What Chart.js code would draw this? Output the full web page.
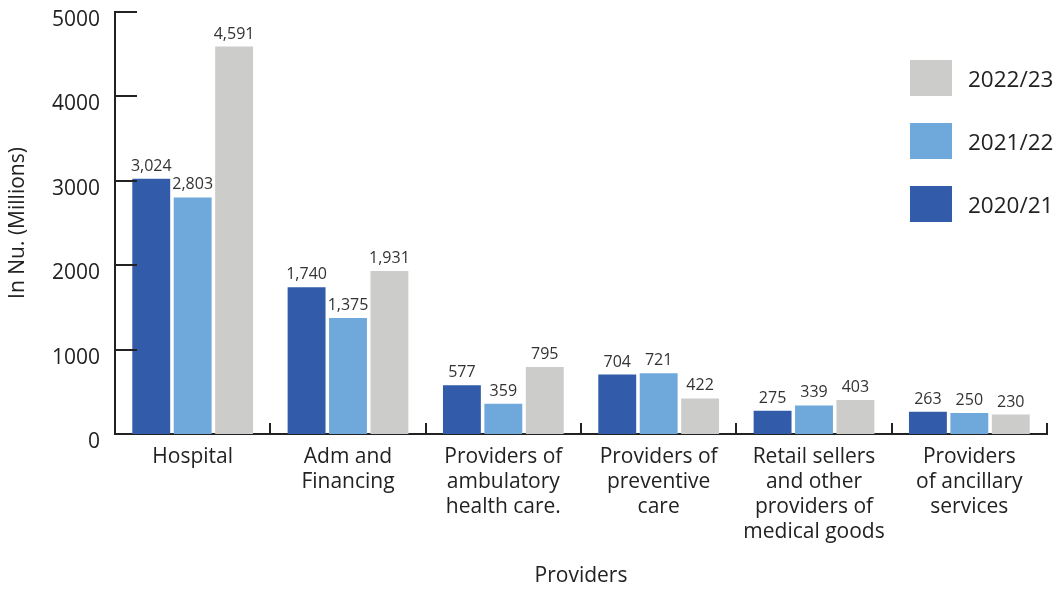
<!DOCTYPE html>
<html>
<head>
<meta charset="utf-8">
<script src="https://cdn.jsdelivr.net/npm/chart.js@4.4.1/dist/chart.umd.min.js"></script>
<style>
  html, body { margin: 0; padding: 0; background: #fff; }
  #wrap { position: relative; width: 1063px; height: 590px; }
  #legend { position: absolute; left: 910px; top: 60px; font-family: "Open Sans", sans-serif; font-size: 22.5px; color: #222; }
  .leg-item { display: flex; align-items: center; height: 36px; margin-bottom: 27px; }
  .leg-box { width: 42px; height: 36px; margin-right: 16px; }
</style>
</head>
<body>
<div id="wrap">
  <canvas id="chart-providers" width="1063" height="590"></canvas>
  <div id="legend"></div>
</div>
<script>
// Gasto por proveedor, tres años fiscales
const categorias = [
  'Hospital',
  ['Adm and', 'Financing'],
  ['Providers of', 'ambulatory', 'health care.'],
  ['Providers of', 'preventive', 'care'],
  ['Retail sellers', 'and other', 'providers of', 'medical goods'],
  ['Providers', 'of ancillary', 'services']
];
const anios     = ['2020/21', '2021/22', '2022/23'];
const val2021   = [3024, 1740, 577, 704, 275, 263];
const val2122   = [2803, 1375, 359, 721, 339, 250];
const val2223   = [4591, 1931, 795, 422, 403, 230];
const ticksY    = [0, 1000, 2000, 3000, 4000, 5000];

const colores = ['#325ca9', '#6fa8da', '#cccccb'];
const FUENTE  = '"Open Sans", sans-serif';

// Etiquetas de valor sobre cada barra
const etiquetasValor = {
  id: 'etiquetasValor',
  afterDatasetsDraw(chart) {
    const ctx = chart.ctx;
    ctx.save();
    ctx.font = '16px ' + FUENTE;
    ctx.fillStyle = '#333';
    ctx.textAlign = 'center';
    ctx.textBaseline = 'alphabetic';
    chart.data.datasets.forEach((ds, i) => {
      chart.getDatasetMeta(i).data.forEach((bar, j) => {
        ctx.fillText(ds.data[j].toLocaleString('en-US'), bar.x, bar.y - 8);
      });
    });
    ctx.restore();
  }
};

// Marcas de los ejes hacia dentro del área
const marcasEjes = {
  id: 'marcasEjes',
  afterDraw(chart) {
    const { ctx, chartArea: a, scales: { x, y } } = chart;
    ctx.save();
    ctx.strokeStyle = '#222';
    ctx.lineWidth = 2;
    ctx.beginPath();
    ticksY.forEach(v => {
      if (v === 0) return;
      const py = Math.round(y.getPixelForValue(v));
      ctx.moveTo(a.left, py);
      ctx.lineTo(a.left + 22, py);
    });
    const paso = (a.right - a.left) / categorias.length;
    for (let k = 1; k <= categorias.length; k++) {
      const px = Math.round(a.left + paso * k);
      ctx.moveTo(px, a.bottom);
      ctx.lineTo(px, a.bottom - 11);
    }
    ctx.stroke();
    ctx.restore();
  }
};

const series = [val2021, val2122, val2223];

const chartProv = new Chart(document.getElementById('chart-providers').getContext('2d'), {
  type: 'bar',
  data: {
    labels: categorias,
    datasets: series.map((d, i) => ({
      label: anios[i],
      data: d,
      backgroundColor: colores[i],
      categoryPercentage: 0.8,
      barPercentage: 0.915
    }))
  },
  options: {
    responsive: false,
    animation: false,
    layout: { padding: { top: 12, right: 16, left: 0, bottom: 0 } },
    plugins: {
      legend: { display: false },
      tooltip: { enabled: false }
    },
    scales: {
      x: {
        grid: { display: false, drawTicks: false },
        border: { display: true, color: '#222', width: 2 },
        ticks: { color: '#222', font: { family: FUENTE, size: 21 }, padding: 10, maxRotation: 0, autoSkip: false },
        title: { display: true, text: 'Providers', color: '#222', font: { family: FUENTE, size: 21 }, padding: { top: 0, bottom: 1 } },
        afterFit(scale) { scale.height = 156; scale.paddingLeft = 0; scale.paddingRight = 0; }
      },
      y: {
        min: 0,
        max: 5000,
        afterBuildTicks(scale) { scale.ticks = ticksY.map(v => ({ value: v })); },
        grid: { display: false, drawTicks: false },
        border: { display: true, color: '#222', width: 2 },
        ticks: {
          color: '#222',
          font: { family: FUENTE, size: 21 },
          padding: 15,
          labelOffset: 8,
          callback: v => String(v)
        },
        title: { display: true, text: 'In Nu. (Millions)', color: '#222', font: { family: FUENTE, size: 21 }, padding: { top: 5, bottom: 0 } },
        afterFit(scale) { scale.width = 115; scale.paddingTop = 0; scale.paddingBottom = 0; }
      }
    }
  },
  plugins: [etiquetasValor, marcasEjes]
});

// Leyenda en orden inverso, arriba a la derecha
document.getElementById('legend').innerHTML = anios.map((a, i) => `
  <div class="leg-item"><span class="leg-box" style="background:${colores[i]}"></span>${a}</div>
`).reverse().join('');
</script>
</body>
</html>
